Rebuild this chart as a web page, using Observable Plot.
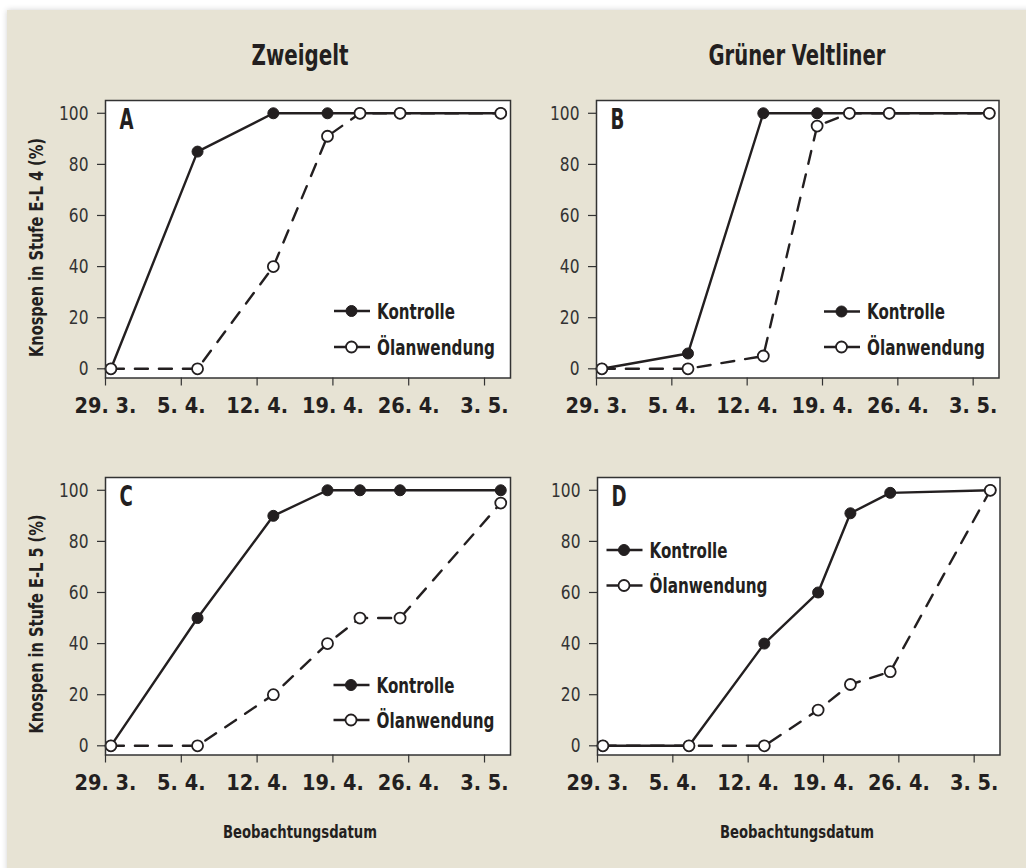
<!DOCTYPE html>
<html>
<head>
<meta charset="utf-8">
<script src="https://cdn.jsdelivr.net/npm/d3@7"></script>
<script src="https://cdn.jsdelivr.net/npm/@observablehq/plot@0.6"></script>
<style>
  html, body { margin: 0; padding: 0; background: #ffffff; }
  #page { position: relative; width: 1026px; height: 868px; overflow: hidden; background: #ffffff; }
  #bg { position: absolute; left: 7px; top: 10px; width: 1030px; height: 870px; background: #e7e3d4; box-shadow: 0 0 6px rgba(0,0,0,0.18); }
  .panel { position: absolute; }
  .panel svg { overflow: visible; }
  #overlay { position: absolute; left: 0; top: 0; pointer-events: none; }
</style>
</head>
<body>
<div id="page">
  <div id="bg"></div>
</div>
<script>
// ---------- data ----------
const days = [0.5, 8.5, 15.5, 20.5, 23.5, 27.2, 36.5];          // days after 29.3.
const tickDays = [0, 7, 14, 21, 28, 35];
const tickLabels = ["29. 3.", "5. 4.", "12. 4.", "19. 4.", "26. 4.", "3. 5."];
const yTicks = [0, 20, 40, 60, 80, 100];
const seriesNames = ["Kontrolle", "Ölanwendung"];
const colTitles = ["Zweigelt", "Grüner Veltliner"];
const rowLabels = ["Knospen in Stufe E-L 4 (%)", "Knospen in Stufe E-L 5 (%)"];
const xLabel = "Beobachtungsdatum";
const panelLetters = ["A", "B", "C", "D"];

const A_kontrolle = [0, 85, 100, 100, 100, 100, 100];
const A_oel       = [0, 0, 40, 91, 100, 100, 100];
const B_kontrolle = [0, 6, 100, 100, 100, 100, 100];
const B_oel       = [0, 0, 5, 95, 100, 100, 100];
const C_kontrolle = [0, 50, 90, 100, 100, 100, 100];
const C_oel       = [0, 0, 20, 40, 50, 50, 95];
const D_kontrolle = [0, 0, 40, 60, 91, 99, 100];
const D_oel       = [0, 0, 0, 14, 24, 29, 100];

// ---------- style / layout ----------
const FONT = "'DejaVu Sans Condensed', 'Liberation Sans Narrow', sans-serif";
const INK = "#231f20";
const mL = 70, mR = 10, mT = 10, mB = 50;
const frameH = 277.5;
const layout = [
  {frameLeft: 105, frameTop: 99.5, frameW: 405, legend: {x: 334, y: 311, dy: 36}},
  {frameLeft: 596, frameTop: 99.5, frameW: 402.5, legend: {x: 824, y: 311.5, dy: 35.5}},
  {frameLeft: 105, frameTop: 477, frameW: 405, legend: {x: 333.5, y: 685, dy: 35}},
  {frameLeft: 596.5, frameTop: 477, frameW: 402.5, legend: {x: 606.5, y: 550, dy: 35.5}}
];
const panelData = [[A_kontrolle, A_oel], [B_kontrolle, B_oel], [C_kontrolle, C_oel], [D_kontrolle, D_oel]];

function rowsOf(values) {
  return days.map((d, i) => ({day: d, value: values[i]}));
}

function makePanel(kon, oel, letter, frameW) {
  const k = rowsOf(kon), o = rowsOf(oel);
  return Plot.plot({
    width: frameW + mL + mR,
    height: frameH + mT + mB,
    marginLeft: mL, marginRight: mR, marginTop: mT, marginBottom: mB,
    style: {background: "transparent", fontFamily: FONT, color: INK, overflow: "visible"},
    x: {domain: [0, 37.4]},
    y: {domain: [-3.6, 105]},
    marks: [
      Plot.frame({fill: "white", stroke: "none"}),
      Plot.axisY(yTicks, {tickSize: 8, tickPadding: 9, fontSize: 19.5, fontWeight: "normal", fill: "#333", stroke: "#333", strokeWidth: 1.2, label: null}),
      Plot.axisX(tickDays, {tickSize: 8, tickPadding: 12, fontSize: 20.5, fontWeight: "bold", fill: INK, stroke: "#333", strokeWidth: 1.2, label: null,
        tickFormat: d => tickLabels[tickDays.indexOf(d)]}),
      Plot.lineY(k, {x: "day", y: "value", stroke: INK, strokeWidth: 2.4}),
      Plot.lineY(o, {x: "day", y: "value", stroke: INK, strokeWidth: 2.4, strokeDasharray: "13,11"}),
      Plot.dot(k, {x: "day", y: "value", r: 5.5, fill: INK, stroke: INK, strokeWidth: 1}),
      Plot.dot(o, {x: "day", y: "value", r: 5.5, fill: "white", stroke: INK, strokeWidth: 1.8}),
      Plot.frame({stroke: "#333", strokeWidth: 1.5}),
      Plot.text([letter], {text: d => d, frameAnchor: "top-left", lineAnchor: "top", textAnchor: "start", dx: 14, dy: 9,
        fontSize: 28, fontWeight: "bold", fill: INK})
    ]
  });
}

// horizontally condense text to imitate a condensed typeface
function condense(nodes, f) {
  nodes.forEach(t => {
    const len = t.getComputedTextLength();
    if (len > 0) {
      t.setAttribute("textLength", (len * f).toFixed(2));
      t.setAttribute("lengthAdjust", "spacingAndGlyphs");
    }
  });
}

const page = document.getElementById("page");
layout.forEach((L, i) => {
  const div = document.createElement("div");
  div.className = "panel";
  div.style.left = (L.frameLeft - mL) + "px";
  div.style.top = (L.frameTop - mT) + "px";
  const svg = makePanel(panelData[i][0], panelData[i][1], panelLetters[i], L.frameW);
  div.appendChild(svg);
  page.appendChild(div);
  condense(svg.querySelectorAll('g[aria-label="y-axis tick label"] text'), 0.88);
  condense(svg.querySelectorAll('g[aria-label="x-axis tick label"] text'), 1.05);
  condense(svg.querySelectorAll('g[aria-label="text"] text'), 0.72);
});

// ---------- overlay: titles, axis labels, legends ----------
const NS = "http://www.w3.org/2000/svg";
const ov = document.createElementNS(NS, "svg");
ov.setAttribute("id", "overlay");
ov.setAttribute("width", 1026);
ov.setAttribute("height", 868);
ov.style.fontFamily = FONT;
page.appendChild(ov);

function txt(s, x, y, opts = {}) {
  const t = document.createElementNS(NS, "text");
  t.textContent = s;
  t.setAttribute("x", x);
  t.setAttribute("y", y);
  t.setAttribute("fill", opts.fill || INK);
  t.setAttribute("font-size", opts.size || 19);
  t.setAttribute("font-weight", opts.weight || "bold");
  t.setAttribute("text-anchor", opts.anchor || "start");
  if (opts.transform) t.setAttribute("transform", opts.transform);
  ov.appendChild(t);
  if (opts.width) {
    t.setAttribute("textLength", opts.width);
    t.setAttribute("lengthAdjust", "spacingAndGlyphs");
  }
  return t;
}

// column titles
const colCenters = [300, 797];
const titleWidths = [97, 177];
colTitles.forEach((s, i) => txt(s, colCenters[i], 65, {size: 28, anchor: "middle", width: titleWidths[i]}));
// row labels (rotated)
const rowCenters = [247.5, 624];
rowLabels.forEach((s, i) => txt(s, 0, 0, {size: 19.5, anchor: "middle", width: 219, transform: `translate(43,${rowCenters[i]}) rotate(-90)`}));
// x labels
colCenters.forEach(cx => txt(xLabel, cx, 838, {size: 17.5, anchor: "middle", width: 154}));

// legends
const legendWidths = [78, 118];
layout.forEach(L => {
  const {x, y, dy} = L.legend;
  seriesNames.forEach((name, j) => {
    const yy = y + j * dy;
    const ln = document.createElementNS(NS, "line");
    ln.setAttribute("x1", x); ln.setAttribute("x2", x + 36);
    ln.setAttribute("y1", yy); ln.setAttribute("y2", yy);
    ln.setAttribute("stroke", INK); ln.setAttribute("stroke-width", 2.4);
    ov.appendChild(ln);
    const c = document.createElementNS(NS, "circle");
    c.setAttribute("cx", x + 17.5); c.setAttribute("cy", yy); c.setAttribute("r", 5.5);
    c.setAttribute("fill", j === 0 ? INK : "white");
    c.setAttribute("stroke", INK); c.setAttribute("stroke-width", j === 0 ? 1 : 1.8);
    ov.appendChild(c);
    txt(name, x + 43, yy + 7.5, {size: 21.5, width: legendWidths[j]});
  });
});
</script>
</body>
</html>
